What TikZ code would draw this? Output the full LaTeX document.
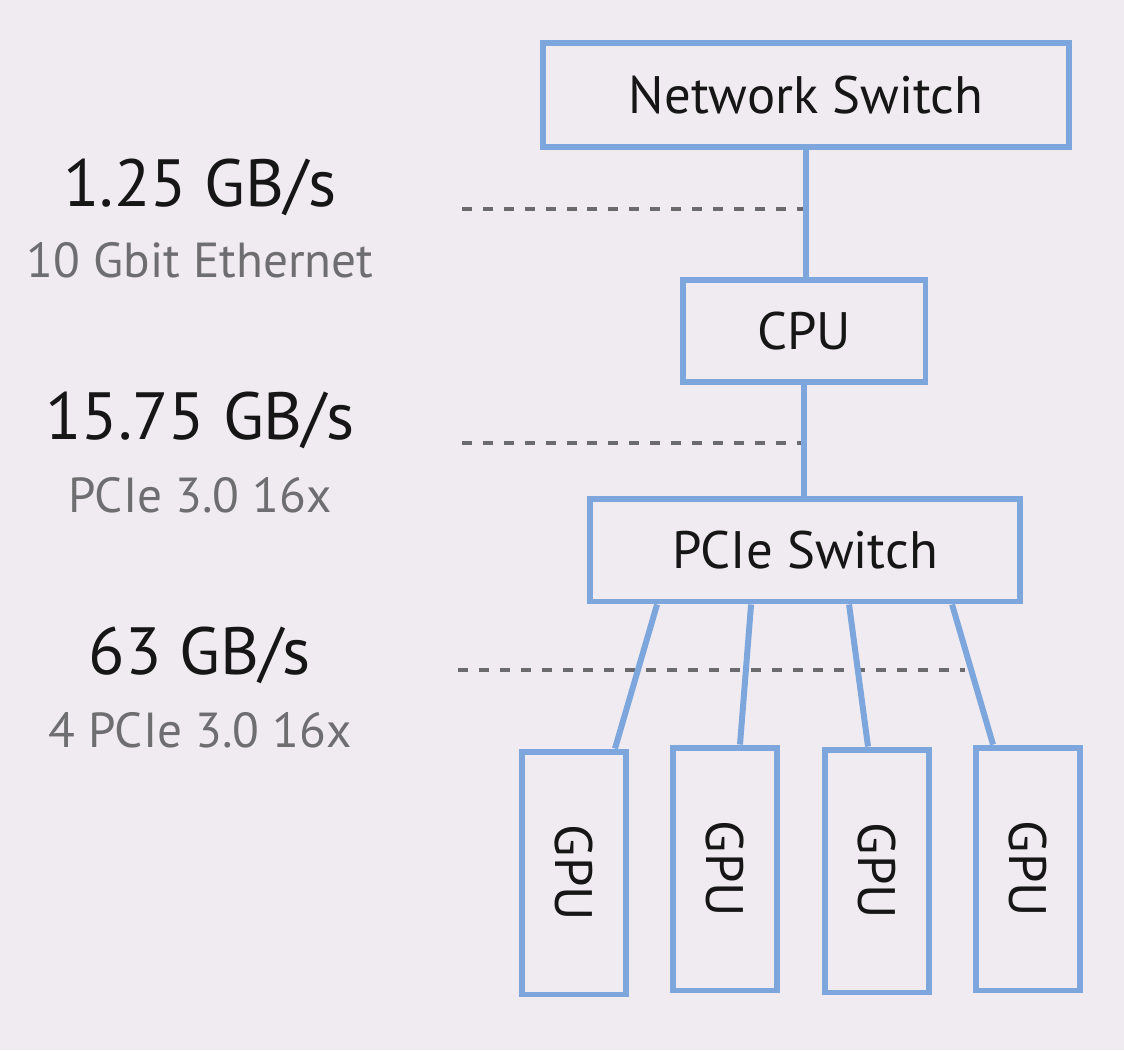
\documentclass[tikz,border=0pt]{standalone}
\usepackage{fontspec}
\setmainfont{PT Sans}
\usetikzlibrary{calc}
\definecolor{bgcol}{HTML}{F0EBF1}
\definecolor{boxblue}{HTML}{7CA6DC}
\definecolor{dashgray}{HTML}{6B6B6E}
\definecolor{subgray}{HTML}{6E6E70}
\definecolor{inkblack}{HTML}{161616}

\begin{document}
\begin{tikzpicture}[x=0.02cm,y=-0.02cm,
  box/.style={draw=boxblue,line width=3.4pt,fill=bgcol,inner sep=0pt,
    text=inkblack,font=\fontsize{30}{32}\selectfont},
  gpubox/.style={box,minimum width=2.08cm,minimum height=4.86cm},
  link/.style={draw=boxblue,line width=3.4pt},
  dashline/.style={draw=dashgray,line width=2.3pt,dash pattern=on 5.7pt off 6.2pt},
  rate/.style={text=inkblack,font=\fontsize{38}{40}\selectfont},
  sub/.style={text=subgray,font=\fontsize{28}{30}\selectfont}]
\fill[bgcol] (0,0) rectangle (1124,1050);
\useasboundingbox (0,0) rectangle (1124,1050);

% boxes
\node[box,minimum width=10.52cm,minimum height=2.08cm] (netsw) at (806,95) {Network Switch};
\node[box,minimum width=4.86cm,minimum height=2.04cm] (cpu) at (804,331) {CPU};
\node[box,minimum width=8.6cm,minimum height=2.06cm] (pcie) at (805,550) {PCIe Switch};
\node[gpubox] (gpu1) at (574,873) {\rotatebox{-90}{GPU}};
\node[gpubox] (gpu2) at (725,869) {\rotatebox{-90}{GPU}};
\node[gpubox] (gpu3) at (877,871) {\rotatebox{-90}{GPU}};
\node[gpubox] (gpu4) at (1028,869) {\rotatebox{-90}{GPU}};

% bandwidth labels
\node[rate] (r1) at (200,187) {1.25 GB/s};
\node[sub] (s1) at (200,260) {10 Gbit Ethernet};
\node[rate] (r2) at (200,420) {15.75 GB/s};
\node[sub] (s2) at (200,495) {PCIe 3.0 16x};
\node[rate] (r3) at (200,655) {63 GB/s};
\node[sub] (s3) at (200,730) {4 PCIe 3.0 16x};

% dashed markers
\coordinate (d1) at (462,209);
\coordinate (d2) at (462,443);
\coordinate (d3) at (458,670);
\coordinate (d3e) at (965,670);
\draw[dashline] (d1) -- (d1 -| netsw.south);
\draw[dashline] (d2) -- (d2 -| cpu.south);
\draw[dashline] (d3) -- (d3e);

% links
\draw[link] (netsw.south) -- (netsw.south |- cpu.north);
\draw[link] (cpu.south) -- (cpu.south |- pcie.north);
\draw[link] ($(pcie.south west)+(70,0)$) -- ($(gpu1.north)+(41,0)$);
\draw[link] ($(pcie.south west)+(164,0)$) -- ($(gpu2.north)+(15,0)$);
\draw[link] ($(pcie.south west)+(262,0)$) -- ($(gpu3.north)+(-9,0)$);
\draw[link] ($(pcie.south west)+(365,0)$) -- ($(gpu4.north)+(-35,0)$);
\end{tikzpicture}
\end{document}
